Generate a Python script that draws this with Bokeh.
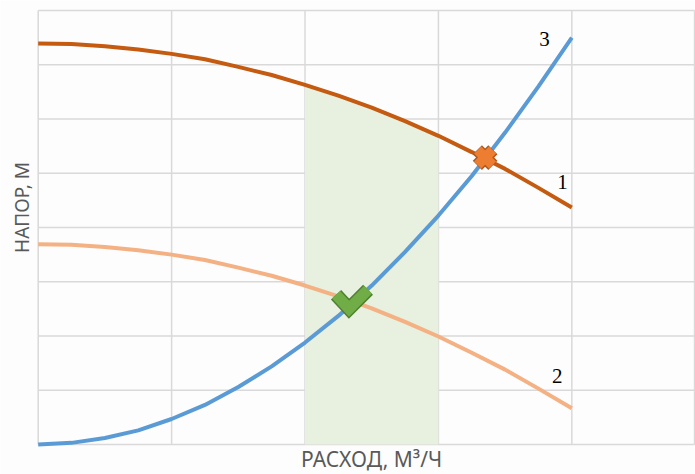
import math
from bokeh.plotting import figure
from bokeh.models import Range1d
from bokeh.embed import file_html
from bokeh.resources import INLINE
from bokeh.core.properties import value

# ---- data ----
flow = [0, 0.25, 0.5, 0.75, 1, 1.25, 1.5, 1.75, 2, 2.25, 2.5, 2.75, 3, 3.25, 3.5, 3.75, 4]
pump_1 = [7.39, 7.38, 7.34, 7.28, 7.20, 7.10, 6.96, 6.81, 6.63, 6.43, 6.21, 5.96, 5.69, 5.39, 5.08, 4.73, 4.37]
pump_2 = [3.69, 3.68, 3.64, 3.58, 3.50, 3.40, 3.26, 3.11, 2.93, 2.73, 2.51, 2.26, 1.99, 1.69, 1.38, 1.03, 0.67]
system_3 = [0, 0.03, 0.12, 0.26, 0.47, 0.73, 1.06, 1.44, 1.88, 2.37, 2.93, 3.55, 4.22, 4.95, 5.75, 6.60, 7.50]

zone = [2, 3]                     # recommended flow range (shaded)
bad_point = ([3.35], [5.29])      # pump 1 x system (cross)
good_point = ([2.33], [2.65])     # pump 2 x system (check)

curve_names = ["1", "2", "3"]
name_x = [3.93, 3.89, 3.795]
name_y = [4.83, 1.27, 7.48]

x_ticks = [0, 1, 2, 3, 4]
y_ticks = [0, 1, 2, 3, 4, 5, 6, 7, 8]
x_edge = 4.92                     # right border of the plot area

x_label = "РАСХОД, М³/Ч"
y_label = "НАПОР, М"

# ---- figure: the whole canvas is the frame, axes drawn by hand ----
W, H = 695, 474
X0, X1 = -0.2826, 4.927
Y0, Y1 = -0.553, 8.184
BG = "#fdfdfd"
GRID = "#d9d9d9"

p = figure(width=W, height=H, output_backend="svg", toolbar_location=None,
           x_range=Range1d(X0, X1), y_range=Range1d(Y0, Y1),
           min_border_left=0, min_border_right=0, min_border_top=0, min_border_bottom=0,
           background_fill_color=BG, border_fill_color=BG, outline_line_color=None)
p.xaxis.visible = False
p.yaxis.visible = False
p.grid.visible = False

# grid of the plot area
vx = x_ticks + [x_edge]
p.segment(x0=vx, y0=[y_ticks[0]] * len(vx), x1=vx, y1=[y_ticks[-1]] * len(vx),
          line_color=GRID, line_width=1.5)
p.segment(x0=[x_ticks[0]] * len(y_ticks), y0=y_ticks, x1=[x_edge] * len(y_ticks), y1=y_ticks,
          line_color=GRID, line_width=1.5)

# shaded zone under pump 1 curve
zx = [f for f in flow if zone[0] <= f <= zone[1]]
zy = [pump_1[flow.index(f)] for f in zx]
p.varea(x=zx, y1=[0] * len(zx), y2=zy, fill_color="#e8f0df")

p.line(flow, pump_2, line_color="#f4b183", line_width=4)
p.line(flow, system_3, line_color="#5b9bd5", line_width=4)
p.line(flow, pump_1, line_color="#c55a11", line_width=4)

# cross marker
p.scatter(bad_point[0], bad_point[1], marker="x", size=22, line_width=13, line_color="#ae5a21")
p.scatter(bad_point[0], bad_point[1], marker="x", size=21, line_width=10, line_color="#ed7d31")

# check marker built around the point (pixel offsets -> data units)
sx = (X1 - X0) / W
sy = (Y1 - Y0) / H
cx, cy = good_point[0][0], good_point[1][0]
offs = [(-13, -6), (0, 8), (19, -11)]   # pixel offsets (x right, y down)
chx = [cx + dx * sx for dx, dy in offs]
chy = [cy - dy * sy for dx, dy in offs]
p.line(chx, chy, line_color="#507e32", line_width=14, line_join="miter", line_cap="butt")
p.line(chx, chy, line_color="#70ad47", line_width=11, line_join="miter", line_cap="butt")

# curve names
p.text(x=name_x, y=name_y, text=curve_names, text_font=value("Liberation Serif"),
       text_font_size="21px", text_color="#000000", text_align="center", text_baseline="middle")

# axis titles
p.text(x=[2.499], y=[-0.27], text=[x_label], text_font=value("Noto Sans"),
       text_font_size="21px", text_color="#595959", text_align="center", text_baseline="middle")
p.text(x=[-0.125], y=[4.369], text=[y_label], angle=math.pi / 2, text_font=value("Noto Sans"),
       text_font_size="19px", text_color="#595959", text_align="center", text_baseline="middle")

open("out.html", "w").write(file_html(p, INLINE))
